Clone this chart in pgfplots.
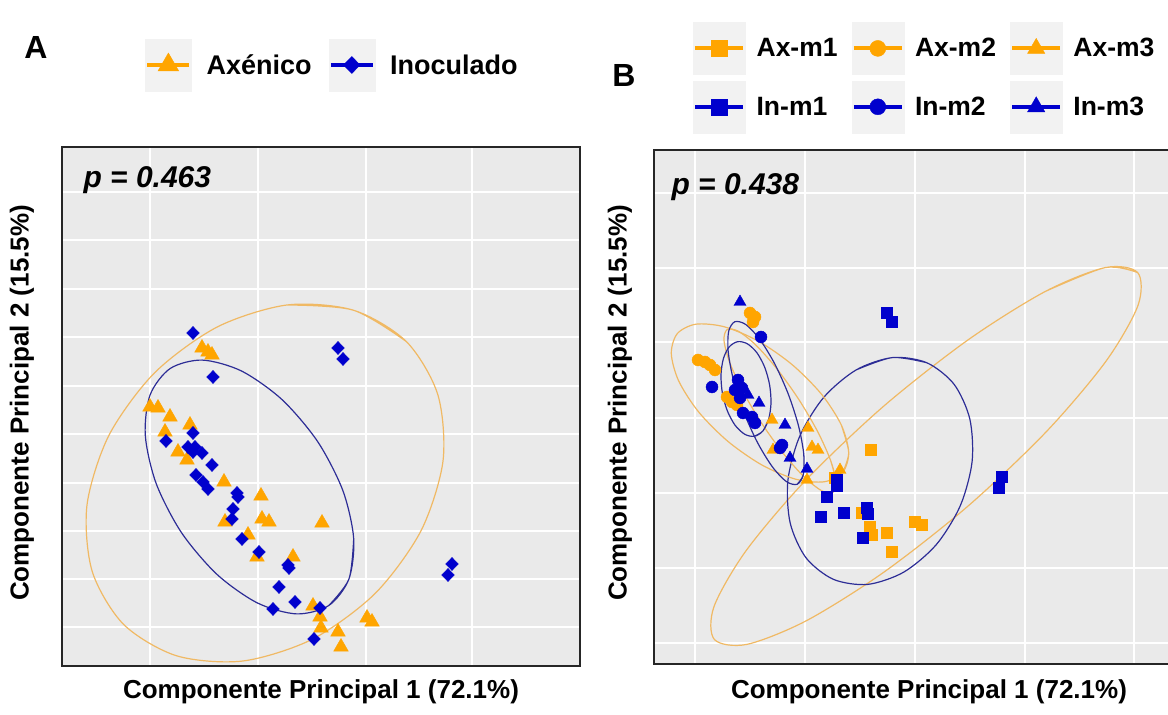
\documentclass[border=0pt]{standalone}
\usepackage{pgfplots}
\pgfplotsset{compat=1.18}
\usepackage{fontspec}
\setmainfont{Liberation Sans}
\definecolor{ggorange}{RGB}{255,165,0}
\definecolor{ggblue}{RGB}{0,0,205}
\definecolor{ellorange}{RGB}{240,185,100}
\definecolor{ellblue}{RGB}{45,45,150}
\definecolor{panelbg}{RGB}{234,234,234}
\definecolor{keybg}{RGB}{242,242,242}
\newcommand\keyw{46}
\newcommand\keyimg[4]{%
  \fill[keybg] (0pt,-26pt) rectangle (\keyw pt,26pt);
  \draw[draw=#1, line width=4pt] (2pt,0pt) -- (\keyw pt-2pt,0pt);
  \draw[color=#1, fill=#1, mark=#2, mark size=#3, mark options={#4}, only marks] plot coordinates {(\keyw pt/2,0pt)};
}
\pgfplotsset{
  ggaxis/.style={x=1pt, y=1pt, anchor=south west,
    axis background/.style={fill=panelbg},
    xmajorgrids, ymajorgrids, grid style={white, line width=1.6pt},
    major tick length=0pt, xticklabels={}, yticklabels={},
    axis line style={draw=black!85, line width=1.3pt},
    clip mode=individual, legend cell align=left},
  ell/.style={forget plot, smooth, mark=none, line width=1.2pt},
}
\begin{document}
\begin{tikzpicture}[x=1pt,y=1pt]
% ---------------- Panel A ----------------
\begin{axis}[ggaxis, at={(62,49)}, xmin=62, xmax=580, ymin=49, ymax=568,
  xtick={150,258,366,472}, ytick={88,136,184,232,281,329,378,426,475,523},
  legend columns=2,
  legend style={draw=none, fill=none, inner sep=0pt,
      font=\fontsize{27}{31}\selectfont\bfseries,
      /tikz/every odd column/.append style={column sep=13pt},
      /tikz/every even column/.append style={column sep=15pt},
      at={(axis description cs:0.1602,1.158)}, anchor=west}]
\addplot[ell, draw=ellorange] coordinates {(406.4,373.4) (353.4,404.8) (287,410) (217.2,388) (154.7,342.3) (109,279.8) (87,210) (92.2,143.6) (123.6,90.6) (176.6,59.2) (243,54) (312.8,76) (375.3,121.7) (421,184.2) (443,254) (437.8,320.4) (406.4,373.4) (353.4,404.8) (287,410)};
\addplot[ell, draw=ellblue] coordinates {(328.8,109.5) (348.9,135.9) (353.7,176.4) (342.8,224.6) (317.6,273.5) (282,315.4) (241.5,344) (202.3,354.9) (170.2,346.5) (150.1,320.1) (145.3,279.6) (156.2,231.4) (181.4,182.5) (217,140.6) (257.5,112) (296.7,101.1) (328.8,109.5) (348.9,135.9) (353.7,176.4)};
\addplot[only marks, mark=triangle*, mark size=8.5pt, color=ggorange,
  legend image code/.code={\keyimg{ggorange}{triangle*}{12pt}{}}] coordinates {
(202,367) (208,363) (212,360) (150,308) (158,307) (170,298) (190,290) (165,283)
(178,263) (187,255) (224,233) (261,219) (225,193) (262,196) (269,193) (322,192)
(248,180) (257,158) (293,158) (313,109) (320,98) (321,87) (367,97) (372,93)
(338,83) (341,68)};
\addlegendentry{Axénico}
\addplot[only marks, mark=diamond*, mark size=6.5pt, color=ggblue, mark options={xscale=1.3},
  legend image code/.code={\keyimg{ggblue}{diamond*}{8.5pt}{xscale=1.3}}] coordinates {
(193,382) (213,338) (338,367) (343,356) (193,282) (166,274) (188,268) (195,268)
(193,263) (202,262) (212,250) (196,240) (203,233) (208,226) (237,222) (238,218)
(233,206) (232,196) (242,176) (259,163) (288,150) (289,147) (279,128) (295,113)
(273,106) (320,107) (314,76) (452,151) (448,140)};
\addlegendentry{Inoculado}
\end{axis}
% ---------------- Panel B ----------------
\renewcommand\keyw{52}
\begin{axis}[ggaxis, at={(654,51)}, xmin=654, xmax=1205, ymin=51, ymax=565,
  xtick={695,805,915,1025,1134}, ytick={72,147,222,297,373,447,522},
  legend columns=3,
  legend style={draw=none, fill=none, inner sep=0pt,
      font=\fontsize{26.5}{30}\selectfont\bfseries,
      /tikz/every odd column/.append style={column sep=9pt},
      /tikz/every even column/.append style={column sep=12pt},
      row sep=6pt,
      at={(axis description cs:0.0708,1.2490)}, anchor=north west}]
\addplot[ell, draw=ellorange] coordinates {(1137.7,442.4) (1105.2,447.4) (1045.4,423.6) (967.6,374.8) (883.2,308.4) (805.4,234.4) (746,164.2) (714,108.4) (714.3,75.6) (746.8,70.6) (806.6,94.4) (884.4,143.2) (968.8,209.6) (1046.6,283.6) (1106,353.8) (1138,409.6) (1137.7,442.4) (1105.2,447.4) (1045.4,423.6)};
\addplot[ell, draw=ellblue] coordinates {(926.7,352.3) (892.4,357.4) (856.2,345.1) (823.7,317.6) (799.7,278.7) (787.9,234.6) (790.2,191.9) (806,157.2) (833.3,135.7) (867.6,130.6) (903.8,142.9) (936.3,170.4) (960.3,209.3) (972.1,253.4) (969.8,296.1) (954,330.8) (926.7,352.3) (892.4,357.4) (856.2,345.1)};
\addplot[ell, draw=ellorange] coordinates {(842.7,242.6) (848.7,262.6) (841.3,290) (821.5,320.8) (792.2,350.3) (758.1,374) (724.3,388.2) (695.9,390.8) (677.3,381.4) (671.3,361.4) (678.7,334) (698.5,303.2) (727.8,273.7) (761.9,250) (795.7,235.8) (824.1,233.2) (842.7,242.6) (848.7,262.6) (841.3,290)};
\addplot[ell, draw=ellorange] coordinates {(832.9,222.6) (836,233.4) (830.5,254.9) (817.4,283.9) (798.5,316) (776.8,346.3) (755.7,370.1) (738.2,383.8) (727.1,385.4) (724,374.6) (729.5,353.1) (742.6,324.1) (761.5,292) (783.2,261.7) (804.3,237.9) (821.8,224.2) (832.9,222.6) (836,233.4) (830.5,254.9)};
\addplot[ell, draw=ellblue] coordinates {(754.4,278.7) (762.8,283.9) (768.6,295.6) (771,311.8) (769.6,330.2) (764.6,348) (756.8,362.4) (747.2,371.3) (737.6,373.3) (729.2,368.1) (723.4,356.4) (721,340.2) (722.4,321.8) (727.4,304) (735.2,289.6) (744.8,280.7) (754.4,278.7) (762.8,283.9) (768.6,295.6)};
\addplot[ell, draw=ellblue] coordinates {(797.1,230.7) (803.3,240.2) (803.8,260.6) (798.6,288.8) (788.4,320.6) (774.8,351) (759.8,375.6) (745.9,390.4) (734.9,393.3) (728.7,383.8) (728.2,363.4) (733.4,335.2) (743.6,303.4) (757.2,273) (772.2,248.4) (786.1,233.6) (797.1,230.7) (803.3,240.2) (803.8,260.6)};
\addplot[only marks, mark=square*, mark size=5.5pt, color=ggorange,
  legend image code/.code={\keyimg{ggorange}{square*}{8pt}{}}] coordinates {
(871,265) (862,202) (870,188) (872,180) (887,182) (892,163) (915,193) (922,190) (835,237)};
\addlegendentry{Ax-m1}
\addplot[only marks, mark=*, mark size=6pt, color=ggorange,
  legend image code/.code={\keyimg{ggorange}{*}{8pt}{}}] coordinates {
(698,355) (705,353) (710,350) (715,345) (750,402) (755,398) (753,393) (727,318) (732,313) (737,310)};
\addlegendentry{Ax-m2}
\addplot[only marks, mark=triangle*, mark size=7pt, color=ggorange,
  legend image code/.code={\keyimg{ggorange}{triangle*}{10pt}{}}] coordinates {
(772,295) (808,287) (812,268) (818,265) (773,265) (807,235) (840,245)};
\addlegendentry{Ax-m3}
\addplot[only marks, mark=square*, mark size=5.5pt, color=ggblue,
  legend image code/.code={\keyimg{ggblue}{square*}{8pt}{}}] coordinates {
(837,235) (837,229) (827,218) (821,198) (844,202) (867,207) (868,201) (863,177) (887,402) (892,393) (1002,238) (999,227)};
\addlegendentry{In-m1}
\addplot[only marks, mark=*, mark size=6pt, color=ggblue,
  legend image code/.code={\keyimg{ggblue}{*}{8pt}{}}] coordinates {
(761,378) (712,328) (738,335) (735,325) (742,327) (740,317) (743,302) (752,298) (755,292) (782,270) (780,267)};
\addlegendentry{In-m2}
\addplot[only marks, mark=triangle*, mark size=7pt, color=ggblue,
  legend image code/.code={\keyimg{ggblue}{triangle*}{10pt}{}}] coordinates {
(740,413) (759,312) (785,290) (790,257) (807,246) (748,320)};
\addlegendentry{In-m3}
\end{axis}
% ---------------- Texts ----------------
\node[font=\fontsize{32}{36}\selectfont\bfseries] at (36,668) {A};
\node[font=\fontsize{32}{36}\selectfont\bfseries] at (624,640) {B};
\node[font=\fontsize{30}{34}\selectfont\bfseries\itshape, anchor=west] at (80,535) {p = 0.463};
\node[font=\fontsize{30}{34}\selectfont\bfseries\itshape, anchor=west] at (668,528) {p = 0.438};
\node[font=\fontsize{26}{30}\selectfont\bfseries] at (321,23) {Componente Principal 1 (72.1\%)};
\node[font=\fontsize{26}{30}\selectfont\bfseries] at (929,23) {Componente Principal 1 (72.1\%)};
\node[font=\fontsize{26}{30}\selectfont\bfseries, rotate=90] at (22,312) {Componente Principal 2 (15.5\%)};
\node[font=\fontsize{26}{30}\selectfont\bfseries, rotate=90] at (620,312) {Componente Principal 2 (15.5\%)};
\pgfresetboundingbox
\path[use as bounding box] (0,0) rectangle (1168,715);
\end{tikzpicture}
\end{document}
